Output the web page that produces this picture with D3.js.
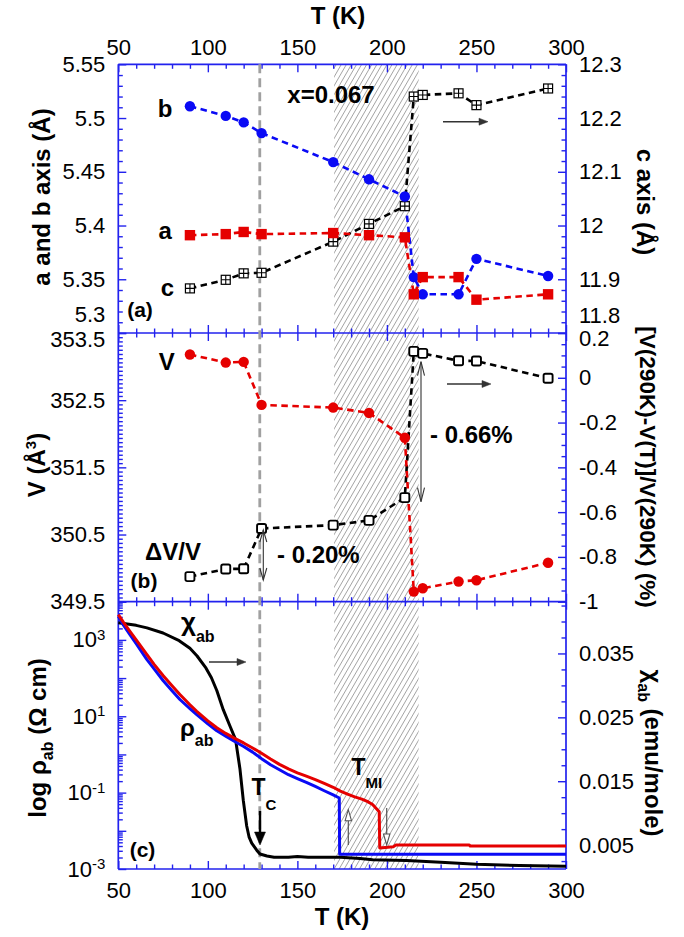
<!DOCTYPE html>
<html><head><meta charset="utf-8">
<script src="https://cdn.jsdelivr.net/npm/d3@7"></script>
<style>body{margin:0;background:#fff}svg{display:block}</style>
</head><body><svg id="chart" width="684" height="937"></svg>
<script>
// ---------------- data ----------------
const tLattice = [90,110,120,130,170,190,210,215,220,240,250,290];
const bAxis   = [5.511,5.502,5.496,5.486,5.459,5.443,5.427,5.352,5.336,5.336,5.369,5.353];
const aAxis   = [5.391,5.392,5.394,5.392,5.393,5.391,5.389,5.336,5.352,5.352,5.331,5.336];
const cAxis   = [11.883,11.899,11.911,11.912,11.970,12.003,12.036,12.240,12.243,12.246,12.224,12.255];
const volume  = [353.18,353.06,353.07,352.43,352.39,352.31,351.94,349.65,349.70,349.80,349.82,350.08];
const dVoverV = [-0.888,-0.854,-0.853,-0.673,-0.658,-0.637,-0.535,0.118,0.109,0.076,0.075,-0.002];

const rhoRedT = [50,53,56.5,60,65.9,70,75.1,80,84.4,90,93.8,100,105,110,115,120,125,130,135,140,145,150,155,160,165,170,174,178,182,186,189,192,195.7,196,203.5,205,246,246.5,300];
const rhoRed  = [4571,2818,1660,1000,417,229,115,63.1,37.2,20.0,13.5,7.59,5.01,3.55,2.63,2.00,1.48,1.07,0.759,0.550,0.417,0.331,0.269,0.219,0.174,0.138,0.110,0.0912,0.0776,0.0676,0.0589,0.0490,0.0316,0.00355,0.00380,0.00427,0.00427,0.00398,0.00398];
const rhoBlueT = [50,53,56.5,60,65.9,70,75.1,80,84.4,90,93.8,100,105,110,115,120,125,130,135,140,145,150,155,160,165,170,173.4,173.6,300];
const rhoBlue  = [4170,2400,1380,794,309,174,85.1,46.8,27.5,15.8,11.0,6.31,4.17,3.02,2.19,1.62,1.15,0.776,0.537,0.398,0.295,0.234,0.186,0.145,0.112,0.0871,0.0724,0.00245,0.00245];
const chiT = [50,55,60,66,75,84,90,94,99,102,105,108.6,112.4,115.5,117.9,119.8,121.7,123,124.5,127.3,129.1,133,137,145,150,156,165,174,185,192,211,230,250,274,300];
const chi  = [0.0398,0.0396,0.0394,0.0390,0.0382,0.0370,0.0358,0.0346,0.0327,0.0312,0.0292,0.0262,0.0236,0.0215,0.0170,0.0120,0.0080,0.0063,0.0053,0.0042,0.0036,0.0033,0.0031,0.0031,0.0032,0.0031,0.0031,0.0031,0.0029,0.0027,0.0026,0.0023,0.0020,0.0018,0.0017];

const tMajor = [50,100,150,200,250,300];
const abMajor = [5.3,5.35,5.4,5.45,5.5,5.55];
const cMajor = [11.8,11.9,12.0,12.1,12.2,12.3];
const vMajor = [349.5,350.5,351.5,352.5,353.5];
const dvMajor = [0.2,0,-0.2,-0.4,-0.6,-0.8,-1];
const rhoMajor = [1e-3,1e-2,1e-1,1e0,1e1,1e2,1e3,1e4];
const rhoLabeled = [-3,-1,1,3];
const chiMajor = [0.005,0.015,0.025,0.035];
const shadeRange = [170.5,217.7];
const tcLine = 129;

// ---------------- layout ----------------
const FONT = '"Liberation Sans", Arial, Helvetica, sans-serif';
const FRAME = "#2222ee";
const BLUE = "#0a0af5", RED = "#e50000";
const L = 118.3, R = 566;
const yTop = 64.3, yAB = 333, yBC = 601.7, yBot = 869;

const svg = d3.select("#chart");
svg.append("rect").attr("width",684).attr("height",937).attr("fill","#fff");

const x = d3.scaleLinear().domain([50,300]).range([L,R]);
const yA = d3.scaleLinear().domain([5.3,5.55]).range([yAB,yTop]);
const yC = d3.scaleLinear().domain([11.8,12.3]).range([yAB,yTop]);
const yV = d3.scaleLinear().domain([349.5,353.5]).range([yBC,yAB]);
const yD = d3.scaleLinear().domain([-1,0.2]).range([yBC,yAB]);
const yR = d3.scaleLog().domain([1e-3,1e4]).range([yBot,yBC]);
const yX = d3.scaleLinear().domain([0.00126,0.0431]).range([yBot,yBC]);

// hatch pattern
const defs = svg.append("defs");
const pat = defs.append("pattern").attr("id","hatch").attr("patternUnits","userSpaceOnUse")
  .attr("width",4.4).attr("height",4.4).attr("patternTransform","rotate(30)");
pat.append("rect").attr("width",4.4).attr("height",4.4).attr("fill","#fff");
pat.append("line").attr("x1",2.2).attr("y1",0).attr("x2",2.2).attr("y2",4.4)
  .attr("stroke","#9a9a9a").attr("stroke-width",0.8);
svg.append("rect").attr("x",x(shadeRange[0])).attr("y",yTop)
  .attr("width",x(shadeRange[1])-x(shadeRange[0])).attr("height",yBot-yTop).attr("fill","url(#hatch)");

// ---------------- axes ----------------
function axisG(gen, scale, vals, size, fmt, pad, tx, ty){
  const ax = gen(scale).tickValues(vals).tickSize(size).tickPadding(pad).tickFormat(fmt || (()=>""));
  const g = svg.append("g").attr("transform",`translate(${tx},${ty})`).call(ax);
  g.attr("font-family",FONT).attr("font-size",22);
  g.select(".domain").remove();
  g.selectAll(".tick line").attr("stroke",FRAME).attr("stroke-width",1.4);
  g.selectAll(".tick text").attr("fill","#000");
  return g;
}
const minorsOf = (lo,hi,step,majors)=>d3.range(Math.round((hi-lo)/step)+1).map(i=>+(lo+i*step).toFixed(6))
  .filter(v=>!majors.some(m=>Math.abs(m-v)<1e-6));
const tMinor = minorsOf(50,300,10,tMajor);
const fmtTrim = d=>String(+d.toFixed(3));

// x axes
axisG(d3.axisTop, x, tMajor, -8, d=>d, 9, 0, yTop);
axisG(d3.axisTop, x, tMinor, -4.5, null, 0, 0, yTop);
[yAB, yBC].forEach(yy=>{
  axisG(d3.axisBottom, x, tMajor, -8, null, 0, 0, yy);
  axisG(d3.axisBottom, x, tMinor, -4.5, null, 0, 0, yy);
  axisG(d3.axisTop, x, tMajor, -8, null, 0, 0, yy);
  axisG(d3.axisTop, x, tMinor, -4.5, null, 0, 0, yy);
});
axisG(d3.axisBottom, x, tMajor, -8, d=>d, 13, 0, yBot);
axisG(d3.axisBottom, x, tMinor, -4.5, null, 0, 0, yBot);

// panel a
const gA = axisG(d3.axisLeft, yA, abMajor, -8, fmtTrim, 13, L, 0);
axisG(d3.axisLeft, yA, minorsOf(5.3,5.55,0.01,abMajor), -4.5, null, 0, L, 0);
const gC = axisG(d3.axisRight, yC, cMajor, -8, d=>d.toFixed(1).replace(/\.0$/,""), 13, R, 0);
axisG(d3.axisRight, yC, minorsOf(11.8,12.3,0.02,cMajor), -4.5, null, 0, R, 0);
gA.selectAll(".tick text").filter(d=>d===5.3).attr("transform","translate(0,-19)");
gC.selectAll(".tick text").filter(d=>d===11.8).attr("transform","translate(0,-18)");

// panel b
const gV = axisG(d3.axisLeft, yV, vMajor, -8, d=>d.toFixed(1), 13, L, 0);
axisG(d3.axisLeft, yV, minorsOf(349.5,353.5,0.0625,vMajor), -4.5, null, 0, L, 0);
const gD = axisG(d3.axisRight, yD, dvMajor, -8, fmtTrim, 13, R, 0);
axisG(d3.axisRight, yD, minorsOf(-1,0.2,0.05,dvMajor), -4.5, null, 0, R, 0);
gV.selectAll(".tick text").filter(d=>d===353.5).attr("transform","translate(0,6)");
gD.selectAll(".tick text").filter(d=>d===0.2).attr("transform","translate(0,5)");

// panel c
const gR = axisG(d3.axisLeft, yR, rhoMajor, -8, null, 13, L, 0);
gR.selectAll(".tick text").each(function(d){
  const e = Math.round(Math.log10(d));
  if (rhoLabeled.includes(e)) {
    const t = d3.select(this);
    t.append("tspan").text("10");
    t.append("tspan").attr("dy","-0.5em").attr("font-size",15).text(e);
  }
});
const rhoMinor = [];
for (let e=-3;e<4;e++) for (let m=2;m<10;m++) rhoMinor.push(m*Math.pow(10,e));
axisG(d3.axisLeft, yR, rhoMinor, -4.5, null, 0, L, 0);
axisG(d3.axisRight, yX, chiMajor, -8, d=>d.toFixed(3), 13, R, 0);
axisG(d3.axisRight, yX, minorsOf(0.0025,0.0425,0.0025,chiMajor), -4.5, null, 0, R, 0);

// frame
[yTop,yAB,yBC,yBot].forEach(yy=>svg.append("line").attr("x1",L).attr("x2",R).attr("y1",yy).attr("y2",yy)
  .attr("stroke",FRAME).attr("stroke-width",1.7));
[L,R].forEach(xx=>svg.append("line").attr("x1",xx).attr("x2",xx).attr("y1",yTop).attr("y2",yBot)
  .attr("stroke",FRAME).attr("stroke-width",1.7));

// Tc dashed line
svg.append("line").attr("x1",x(tcLine)).attr("x2",x(tcLine)).attr("y1",yTop).attr("y2",yBot)
  .attr("stroke","#a0a0a0").attr("stroke-width",2.8).attr("stroke-dasharray","9,5");

// ---------------- data marks ----------------
function dashed(vals, yScale, color){
  const pts = tLattice.map((t,i)=>[x(t), yScale(vals[i])]);
  svg.append("path").attr("d", d3.line()(pts)).attr("fill","none").attr("stroke",color)
    .attr("stroke-width",2.6).attr("stroke-dasharray","6.5,4.5");
}
// panel a
dashed(cAxis, yC, "#000");
dashed(bAxis, yA, BLUE);
dashed(aAxis, yA, RED);
tLattice.forEach((t,i)=>{
  const cx = x(t), cy = yC(cAxis[i]), s = 4.5;
  svg.append("rect").attr("x",cx-s).attr("y",cy-s).attr("width",2*s).attr("height",2*s)
    .attr("fill","#fff").attr("stroke","#000").attr("stroke-width",1.2);
  svg.append("path").attr("d",`M${cx-s},${cy}H${cx+s}M${cx},${cy-s}V${cy+s}`).attr("stroke","#000").attr("stroke-width",1.1);
});
svg.selectAll(null).data(tLattice).enter().append("circle")
  .attr("cx",d=>x(d)).attr("cy",(d,i)=>yA(bAxis[i])).attr("r",5.2).attr("fill",BLUE);
svg.selectAll(null).data(tLattice).enter().append("rect")
  .attr("x",d=>x(d)-5.2).attr("y",(d,i)=>yA(aAxis[i])-5.2).attr("width",10.4).attr("height",10.4).attr("fill",RED);

// panel b
dashed(dVoverV, yD, "#000");
dashed(volume, yV, RED);
svg.selectAll(null).data(tLattice).enter().append("circle")
  .attr("cx",d=>x(d)).attr("cy",(d,i)=>yV(volume[i])).attr("r",5.2).attr("fill",RED);
svg.selectAll(null).data(tLattice).enter().append("rect")
  .attr("x",d=>x(d)-4.5).attr("y",(d,i)=>yD(dVoverV[i])-4.5).attr("width",9).attr("height",9).attr("rx",1.8)
  .attr("fill","#fff").attr("stroke","#000").attr("stroke-width",1.9);

// panel c
const solid = (T, V, yS, color)=>svg.append("path")
  .attr("d", d3.line().x((d,i)=>x(T[i])).y((d,i)=>yS(V[i]))(T))
  .attr("fill","none").attr("stroke",color).attr("stroke-width",3).attr("stroke-linejoin","round");
solid(chiT, chi, yX, "#000");
solid(rhoBlueT, rhoBlue, yR, BLUE);
solid(rhoRedT, rhoRed, yR, RED);

// ---------------- annotations ----------------
function txt(x0,y0,parts,o={}){
  const t = svg.append("text").attr("x",x0).attr("y",y0).attr("font-family",FONT)
    .attr("font-weight",o.weight||"bold").attr("font-size",o.size||24)
    .attr("text-anchor",o.anchor||"start").attr("fill","#000");
  if (o.rotate) t.attr("transform",`rotate(${o.rotate},${x0},${y0})`);
  parts.forEach(p=>{
    if (typeof p==="string") t.append("tspan").text(p);
    else { const s=t.append("tspan").text(p.t); if(p.size) s.attr("font-size",p.size); if(p.dy) s.attr("dy",p.dy); }
  });
  return t;
}
function arrow(x1,y1,x2,y2,o={}){
  const dx=x2-x1, dy=y2-y1, len=Math.hypot(dx,dy), ux=dx/len, uy=dy/len, nx=-uy, ny=ux;
  const hl=o.hl||10, hw=o.hw||4, col=o.color||"#333";
  const bx=x2-ux*hl, by=y2-uy*hl;
  const lineEnd = o.head==="v" ? [x2,y2] : [bx,by];
  svg.append("line").attr("x1",x1).attr("y1",y1).attr("x2",lineEnd[0]).attr("y2",lineEnd[1])
    .attr("stroke",col).attr("stroke-width",o.w||1.4);
  const p = `M${bx+nx*hw},${by+ny*hw}L${x2},${y2}L${bx-nx*hw},${by-ny*hw}`;
  if (o.head==="v") svg.append("path").attr("d",p).attr("fill","none").attr("stroke",col).attr("stroke-width",o.w||1.4);
  else svg.append("path").attr("d",p+"Z").attr("fill",o.head==="open"?"#fff":col).attr("stroke",col).attr("stroke-width",o.head==="open"?1.1:0.5);
}

// axis titles
txt(338,24,["T (K)"],{anchor:"middle"});
txt(342,925,["T (K)"],{anchor:"middle"});
txt(50,197,["a  and b axis (Å)"],{anchor:"middle",rotate:-90});
txt(637,202,["c axis (Å)"],{anchor:"middle",rotate:90});
txt(45,465,["V (Å",{t:"3",size:15,dy:-9},{t:")",size:24,dy:9}],{anchor:"middle",rotate:-90});
txt(640,467,["[V(290K)-V(T)]/V(290K) (%)"],{anchor:"middle",rotate:90,size:22.5});
txt(46,738,["log ρ",{t:"ab",size:16,dy:7},{t:" (Ω cm)",size:24,dy:-7}],{anchor:"middle",rotate:-90});
txt(645,753,["χ",{t:"ab",size:16,dy:7},{t:" (emu/mole)",size:24,dy:-7}],{anchor:"middle",rotate:90});

// panel labels
txt(165,116.5,["b"],{anchor:"middle"});
txt(165.3,239.3,["a"],{anchor:"middle"});
txt(167.5,296,["c"],{anchor:"middle"});
txt(331,103,["x=0.067"],{anchor:"middle"});
txt(140,317,["(a)"],{anchor:"middle",size:21});
txt(166.7,370,["V"],{anchor:"middle"});
txt(173,560,["ΔV/V"],{anchor:"middle"});
txt(144,588,["(b)"],{anchor:"middle",size:21});
txt(430,443,["- 0.66%"]);
txt(277,563,["- 0.20%"]);
txt(142.5,857,["(c)"],{anchor:"middle",size:21});
txt(181,630.5,["χ",{t:"ab",size:16,dy:11}],{size:26});
txt(180,735.7,["ρ",{t:"ab",size:16,dy:10.6}]);
txt(251.5,794.7,["T",{t:"C",size:15,dy:15}],{size:23});
txt(351.5,774.7,["T",{t:"MI",size:15,dy:13.3}],{size:23});

// arrows
arrow(443,121.7,488,121.7,{hl:9,hw:3.5,w:1.5});
arrow(447,384,491,384,{hl:9,hw:3.5,w:1.5});
arrow(209,662,246,662,{hl:9,hw:3.5,w:1.5});
arrow(421,432,421,361.7,{head:"v",hl:14,hw:3.5,w:1.1});
arrow(421,432,421,501.7,{head:"v",hl:14,hw:3.5,w:1.1});
arrow(263.3,555,263.3,530,{head:"v",hl:12,hw:3.5,w:1.1});
arrow(263.3,555,263.3,580,{head:"v",hl:12,hw:3.5,w:1.1});
arrow(260,811,260,845,{hl:13,hw:5.5,w:2.4,color:"#000"});
arrow(348.3,845,348.3,809.7,{head:"open",hl:11,hw:3.2,w:1.2,color:"#555"});
arrow(386.7,808,386.7,845,{head:"open",hl:11,hw:3.2,w:1.2,color:"#555"});
</script></body></html>
